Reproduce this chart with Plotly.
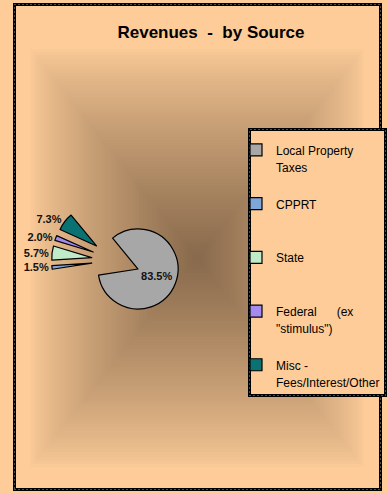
import plotly.graph_objects as go

W, H = 388, 493

# ---- data ----
categories = [
    "Local Property Taxes",
    "CPPRT",
    "State",
    "Federal (ex \"stimulus\")",
    "Misc - Fees/Interest/Other",
]
legend_text = [
    "Local Property<br>Taxes<br>&nbsp;",
    "CPPRT<br>&nbsp;<br>&nbsp;",
    "State<br>&nbsp;<br>&nbsp;",
    "Federal&nbsp;&nbsp;&nbsp;&nbsp;&nbsp;&nbsp;(ex<br>\"stimulus\")<br>&nbsp;",
    "Misc -<br>Fees/Interest/Other<br>&nbsp;",
]
shares = [83.5, 1.5, 5.7, 2.0, 7.3]
title_text = "Revenues\u00a0\u00a0-\u00a0\u00a0by Source"

# ---- style ----
slice_colors = ["#A7A7A7", "#7FA6DA", "#BFEBC8", "#A58AF0", "#0A7272"]
label_pos = ["inside", "outside", "outside", "outside", "outside"]
edge_col = (253, 204, 153)
center_col = (136, 106, 76)
FONT = "Arial, Liberation Sans, sans-serif"


def px(x):
    return x / W


def py(y):
    return 1 - y / H


labels_fmt = ["<span style='font-size:12px'>%s</span>" % t for t in legend_text]

fig = go.Figure()
fig.add_trace(go.Pie(
    labels=labels_fmt,
    values=shares,
    sort=False,
    direction="clockwise",
    rotation=-39.5,
    pull=[0.6] * len(shares),
    marker=dict(colors=slice_colors, line=dict(color="#000000", width=1.2)),
    textinfo="percent",
    texttemplate="%{percent:.1%}",
    textposition=label_pos,
    insidetextorientation="horizontal",
    textfont=dict(family=FONT, size=11, color="#111111", weight="bold"),
    domain=dict(x=[px(51.6), px(179.6)], y=[py(324.5), py(196.5)]),
    hoverinfo="skip",
))

shapes = []
# rectangular "from centre" gradient background
gx0, gx1, gy0, gy1 = 28, 366, 46, 470
cx, cy = (gx0 + gx1) / 2, (gy0 + gy1) / 2
hw, hh = (gx1 - gx0) / 2, (gy1 - gy0) / 2
N = 70
for i in range(N):
    s = 1 - i / N
    t = (i / (N - 1)) ** 0.8
    c = tuple(int(round(edge_col[k] + (center_col[k] - edge_col[k]) * t)) for k in range(3))
    shapes.append(dict(
        type="rect", xref="paper", yref="paper", layer="below",
        x0=px(cx - s * hw), x1=px(cx + s * hw), y0=py(cy + s * hh), y1=py(cy - s * hh),
        fillcolor="rgb(%d,%d,%d)" % c, line=dict(width=0),
    ))


def dashed_box(x0, y0, x1, y1, fill=None):
    out = [dict(type="rect", xref="paper", yref="paper", layer="below",
                x0=px(x0), x1=px(x1), y0=py(y1), y1=py(y0),
                fillcolor=fill if fill else "rgba(0,0,0,0)",
                line=dict(color="#000000", width=3))]
    out.append(dict(type="rect", xref="paper", yref="paper", layer="below",
                    x0=px(x0), x1=px(x1), y0=py(y1), y1=py(y0),
                    fillcolor="rgba(0,0,0,0)",
                    line=dict(color="#9a9a9a", width=1, dash="1px,3px")))
    return out


shapes += dashed_box(14.5, 4.5, 380.5, 489.5)
shapes += dashed_box(249.5, 129.5, 385.5, 395.5, fill="rgb(253,204,153)")

fig.update_layout(
    width=W, height=H, autosize=False,
    margin=dict(l=0, r=0, t=0, b=0, pad=0, autoexpand=False),
    paper_bgcolor="rgb(%d,%d,%d)" % edge_col,
    plot_bgcolor="rgba(0,0,0,0)",
    shapes=shapes,
    title=dict(text=title_text, x=px(211), xanchor="center", xref="paper",
               y=py(32), yanchor="middle", yref="paper",
               font=dict(family=FONT, size=17, color="#000000", weight="bold")),
    showlegend=True,
    legend=dict(
        x=px(236), xanchor="left", y=py(135), yanchor="top",
        bgcolor="rgba(0,0,0,0)", borderwidth=0,
        font=dict(family=FONT, size=13, color="#000000"),
        valign="top", traceorder="normal", itemwidth=30,
    ),
)

fig.write_html("out.html")
